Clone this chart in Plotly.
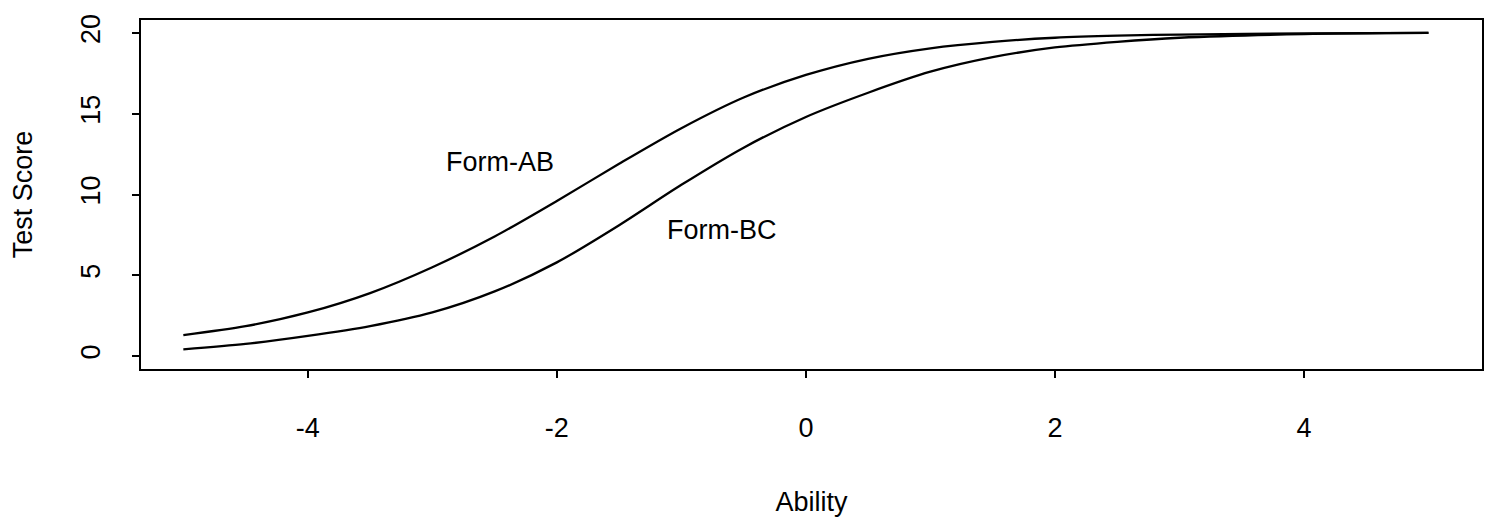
import plotly.graph_objects as go

# Ability grid and read-off test scores
ability = [-5.0, -4.5, -4.0, -3.5, -3.0, -2.5, -2.0, -1.5, -1.0, -0.5,
           0.0, 0.5, 1.0, 1.5, 2.0, 2.5, 3.0, 4.0, 5.0]
form_ab = [1.30, 1.85, 2.70, 3.90, 5.50, 7.40, 9.60, 11.90, 14.10, 16.00,
           17.40, 18.40, 19.05, 19.45, 19.70, 19.83, 19.90, 19.97, 20.00]
form_bc = [0.41, 0.75, 1.25, 1.85, 2.70, 4.00, 5.80, 8.10, 10.60, 12.90,
           14.80, 16.30, 17.60, 18.50, 19.10, 19.45, 19.70, 19.93, 20.00]

x_ticks = [-4, -2, 0, 2, 4]
y_ticks = [0, 5, 10, 15, 20]

# label positions (data coords)
labels = ["Form-AB", "Form-BC"]
label_x = [-2.46, -0.67]
label_y = [12.0, 7.8]

FONT = "Liberation Sans, Arial, Helvetica, sans-serif"
FS = 27

fig = go.Figure()
for name, ys in (("Form-AB", form_ab), ("Form-BC", form_bc)):
    fig.add_trace(go.Scatter(
        x=ability, y=ys, mode="lines", name=name,
        line=dict(color="black", width=2.3, shape="spline", smoothing=0.8),
        showlegend=False,
    ))

for t, lx, ly in zip(labels, label_x, label_y):
    fig.add_annotation(x=lx, y=ly, text=t, showarrow=False,
                       font=dict(family=FONT, size=FS, color="black"),
                       xanchor="center", yanchor="middle")

fig.update_layout(
    width=1493, height=518,
    margin=dict(l=133, r=19, t=12, b=157, autoexpand=False),
    paper_bgcolor="white", plot_bgcolor="white",
    font=dict(family=FONT, size=FS, color="black"),
    xaxis=dict(
        range=[-5.34, 5.43], tickmode="array", tickvals=x_ticks,
        ticktext=[str(v) for v in x_ticks],
        ticks="outside", ticklen=7, tickwidth=1.5, tickcolor="black",
        showline=True, linecolor="black", linewidth=2, mirror=True,
        showgrid=False, zeroline=False, automargin=False,
        ticklabelstandoff=27,
        title=dict(text="Ability", standoff=50, font=dict(size=FS)),
    ),
    yaxis=dict(
        range=[-0.8, 20.8], tickmode="array", tickvals=y_ticks,
        ticktext=[str(v) for v in y_ticks], tickangle=-90,
        ticks="outside", ticklen=7, tickwidth=1.5, tickcolor="black",
        showline=True, linecolor="black", linewidth=2, mirror=True,
        showgrid=False, zeroline=False, automargin=False,
        ticklabelstandoff=21,
        title=dict(text="Test Score", standoff=36, font=dict(size=FS)),
    ),
)

fig.write_html("out.html")
